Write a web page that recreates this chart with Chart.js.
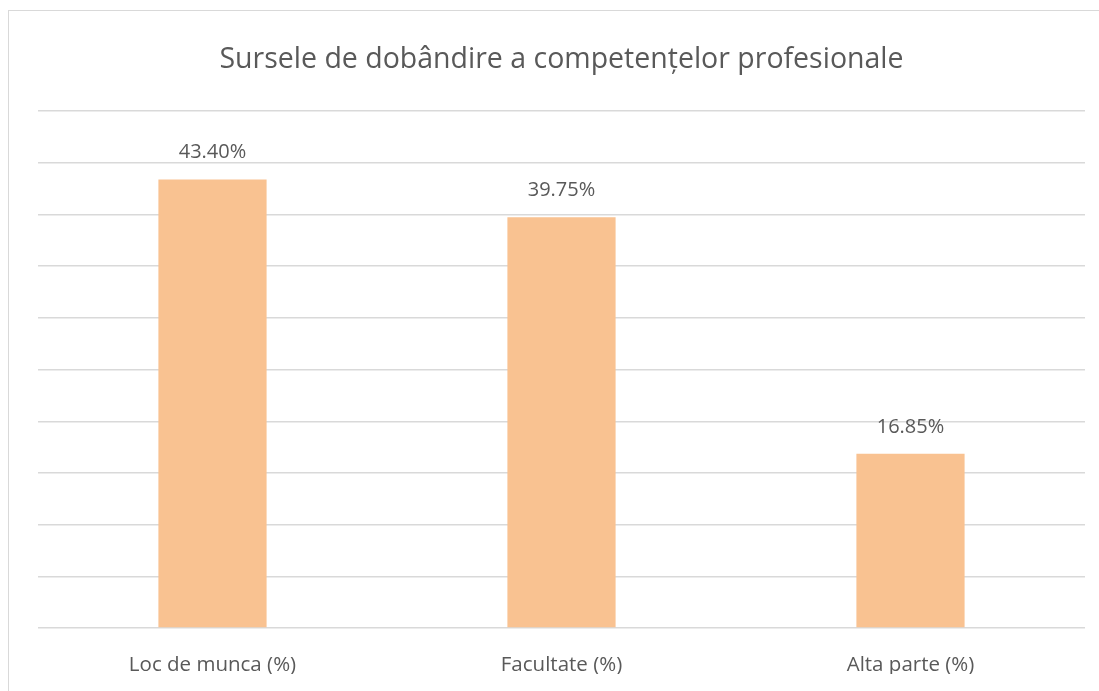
<!DOCTYPE html>
<html>
<head>
<meta charset="utf-8">
<script src="https://cdn.jsdelivr.net/npm/chart.js@4/dist/chart.umd.min.js"></script>
<style>
  html, body { margin: 0; padding: 0; background: #fff; overflow: hidden; }
  #wrap { position: relative; width: 1099px; height: 691px; }
  #frame { position: absolute; left: 8px; top: 10px; right: -2px; bottom: -2px;
           border: 1px solid #d9d9d9; pointer-events: none; }
</style>
</head>
<body>
<div id="wrap">
  <canvas id="chart" width="1099" height="691"></canvas>
  <div id="frame"></div>
</div>
<script>
// Data
const categories = ['Loc de munca (%)', 'Facultate (%)', 'Alta parte (%)'];
const values = [43.40, 39.75, 16.85];
const chartTitle = 'Sursele de dobândire a competențelor profesionale';

const textColor = '#595959';
const fontFamily = "'Open Sans', 'Noto Sans', sans-serif";

// Value labels above the bars
const valueLabels = {
  id: 'valueLabels',
  afterDatasetsDraw(chart) {
    const ctx = chart.ctx;
    const meta = chart.getDatasetMeta(0);
    ctx.save();
    ctx.font = '20px ' + fontFamily;
    ctx.fillStyle = textColor;
    ctx.textAlign = 'center';
    ctx.textBaseline = 'middle';
    meta.data.forEach((bar, i) => {
      ctx.fillText(values[i].toFixed(2) + '%', bar.x, bar.y - 27);
    });
    ctx.restore();
  }
};

new Chart(document.getElementById('chart'), {
  type: 'bar',
  data: {
    labels: categories,
    datasets: [{
      data: values,
      backgroundColor: '#F9C291',
      borderWidth: 0,
      categoryPercentage: 1,
      barPercentage: 0.31
    }]
  },
  options: {
    responsive: false,
    animation: false,
    layout: { padding: { left: 38, right: 14, top: 0, bottom: 17 } },
    plugins: {
      legend: { display: false },
      tooltip: { enabled: false },
      title: {
        display: true,
        text: chartTitle,
        color: textColor,
        font: { family: fontFamily, size: 28.5, weight: 'normal' },
        padding: { top: 43, bottom: 34 }
      }
    },
    scales: {
      x: {
        grid: { display: false, drawTicks: false },
        border: { display: false },
        ticks: { color: textColor, padding: 25, maxRotation: 0, font: { family: fontFamily, size: 20.5 } },
        afterFit(scale) { scale.height = 46; }
      },
      y: {
        min: 0,
        max: 50,
        ticks: { display: false, stepSize: 5 },
        grid: { color: '#d9d9d9', lineWidth: 1.5, drawTicks: false },
        border: { display: false }
      }
    }
  },
  plugins: [valueLabels]
});
</script>
</body>
</html>
